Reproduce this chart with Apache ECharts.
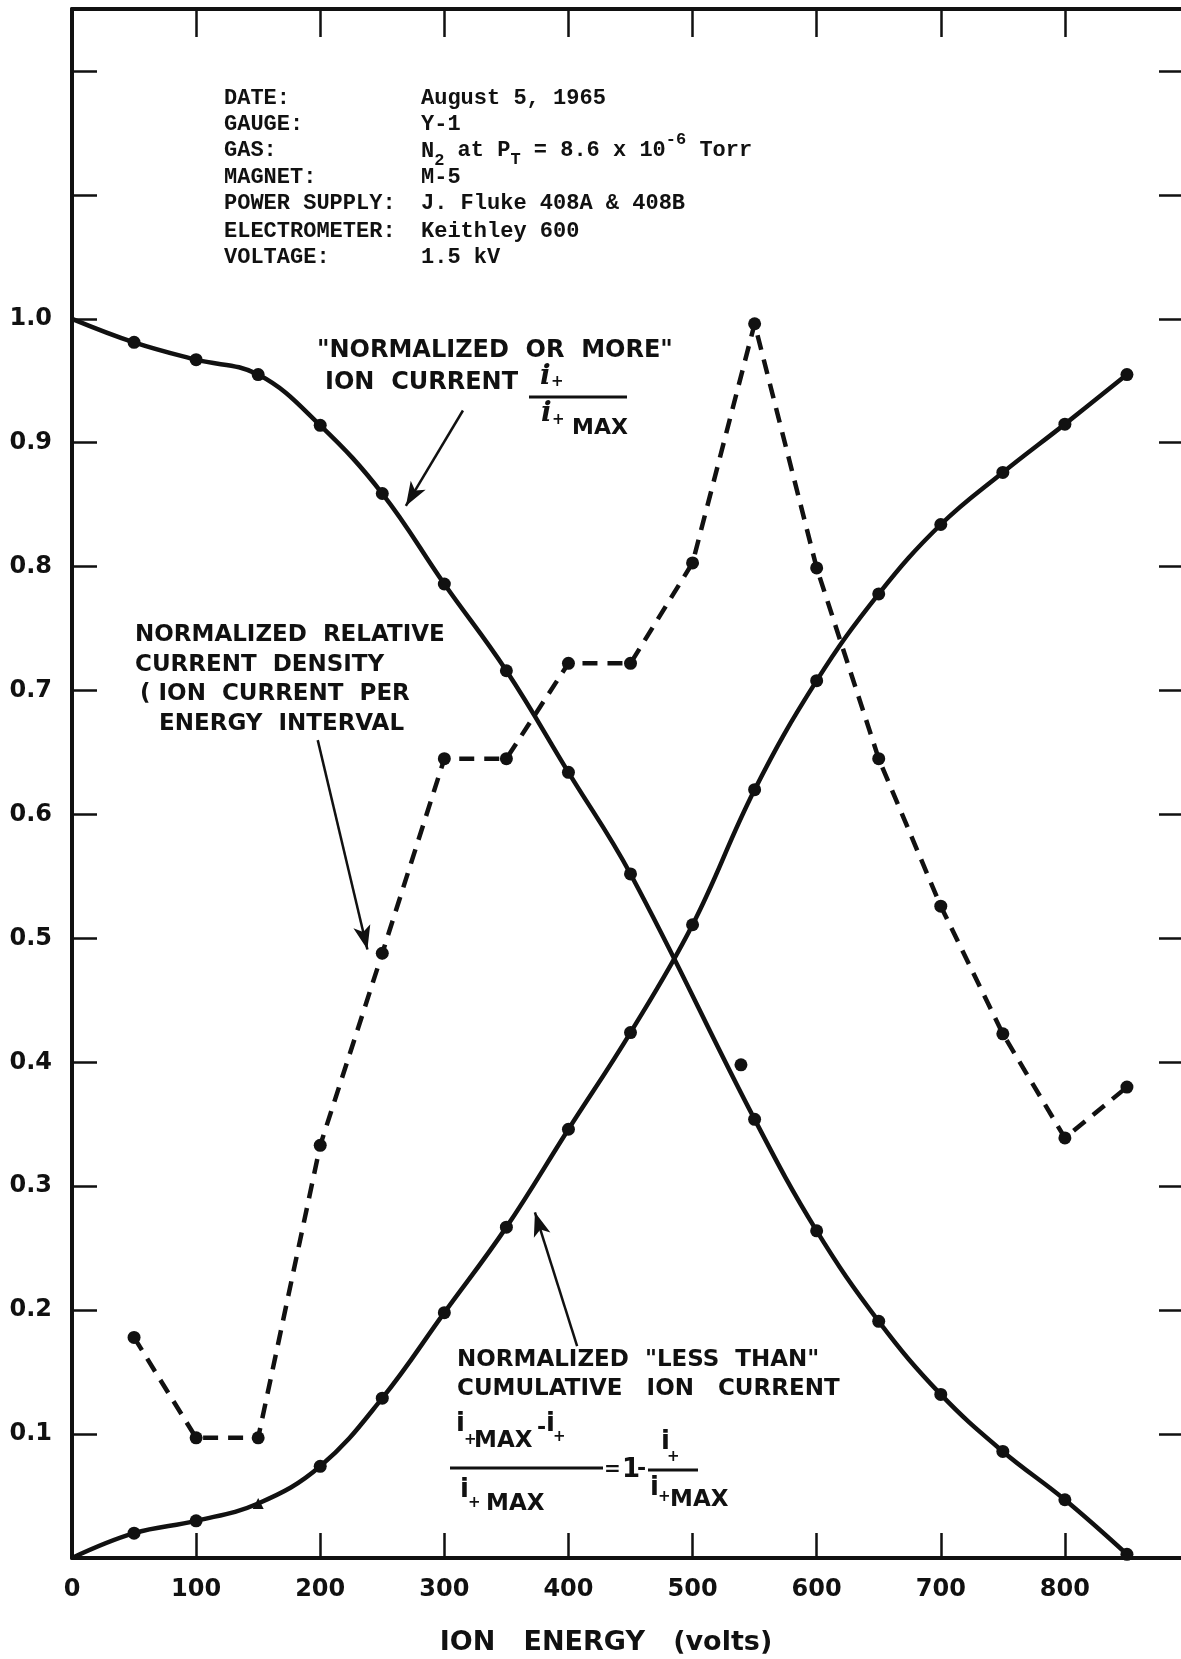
<!DOCTYPE html>
<html><head><meta charset="utf-8">
<script src="https://cdn.jsdelivr.net/npm/echarts@6/dist/echarts.min.js"></script>
<style>html,body{margin:0;padding:0;background:#fff}#c{width:1181px;height:1659px}</style>
</head><body><div id="c"></div>
<script>
// ---- data ----
const energyOrMore   = [0,50,100,150,200,250,300,350,400,450,550,600,650,700,750,800,850];
const currentOrMore  = [1.0,0.981,0.967,0.955,0.914,0.859,0.786,0.716,0.634,0.552,0.354,0.264,0.191,0.132,0.086,0.047,0.003];
const energyLessThan = [0,50,100,150,200,250,300,350,400,450,500,550,600,650,700,750,800,850];
const currentLessThan= [0.0,0.020,0.030,0.044,0.074,0.129,0.198,0.267,0.346,0.424,0.511,0.620,0.708,0.778,0.834,0.876,0.915,0.955];
const energyDensity  = [50,100,150,200,250,300,350,400,450,500,550,600,650,700,750,800,850];
const currentDensity = [0.178,0.097,0.097,0.333,0.488,0.645,0.645,0.722,0.722,0.803,0.996,0.799,0.645,0.526,0.423,0.339,0.380];
const strayEnergy    = [539];
const strayCurrent   = [0.398];
const xTickLabels = ['0','100','200','300','400','500','600','700','800'];
const yTickLabels = ['0.1','0.2','0.3','0.4','0.5','0.6','0.7','0.8','0.9','1.0'];
// annotation arrows (data coordinates): [from, to]
const arrowFrom = [[315,0.926],[198,0.660],[407,0.171]];
const arrowTo   = [[269,0.849],[238,0.491],[373,0.279]];

const chart = echarts.init(document.getElementById('c'), null, {renderer:'canvas'});
const BLACK = '#111';
const zip = (xs, ys) => xs.map((x,i)=>[x, ys[i]]);

const infoLabels = ['DATE:','GAUGE:','GAS:','MAGNET:','POWER SUPPLY:','ELECTROMETER:','VOLTAGE:'];
const infoValues = ['August 5, 1965','Y-1',null,'M-5','J. Fluke 408A & 408B','Keithley 600','1.5 kV'];
const rowY = [98,124,150,177,203,231,257];
const mono = 'bold 22px "Liberation Mono", "DejaVu Sans Mono", monospace';
const sans = (s) => 'bold ' + s + 'px "DejaVu Sans", "Liberation Sans", sans-serif';

const graphic = [];
infoLabels.forEach((t,i)=>graphic.push({type:'text', x:224, y:rowY[i], style:{text:t, font:mono, fill:BLACK, textVerticalAlign:'middle'}}));
infoValues.forEach((t,i)=>{ if(t) graphic.push({type:'text', x:421, y:rowY[i], style:{text:t, font:mono, fill:BLACK, textVerticalAlign:'middle'}}); });
// GAS line with sub/superscripts
const gasParts = [
  ['N',0,22],['2',10,17],[' at P',-1,22],['T',9,17],[' = 8.6 x 10',-1,22],['-6',-11,17],[' Torr',-1,22]
];
(function(){
  let x = 421;
  gasParts.forEach(p=>{
    graphic.push({type:'text', x:x, y:rowY[2]+p[1]+1, style:{text:p[0], font:'bold '+p[2]+'px "Liberation Mono", monospace', fill:BLACK, textVerticalAlign:'middle'}});
    x += p[0].length * p[2]*0.6;
  });
})();

function T(text, x, y, size, extra){
  return Object.assign({type:'text', x:x, y:y, style:Object.assign({text:text, font:sans(size), fill:BLACK, textVerticalAlign:'middle'}, extra||{})});
}
function L(x1,y1,x2,y2,w){ return {type:'line', shape:{x1:x1,y1:y1,x2:x2,y2:y2}, style:{stroke:BLACK, lineWidth:w||3}}; }

// "NORMALIZED OR MORE" label
graphic.push(T('"NORMALIZED  OR  MORE"', 317, 351, 24));
graphic.push(T('ION  CURRENT', 325, 383, 24));
graphic.push(L(529,397,627,397,3));
graphic.push({type:'text', x:540, y:377, style:{text:'i', font:'italic bold 28px "DejaVu Serif", serif', fill:BLACK, textVerticalAlign:'middle'}});
graphic.push(T('+', 551, 382, 15));
graphic.push({type:'text', x:541, y:414, style:{text:'i', font:'italic bold 28px "DejaVu Serif", serif', fill:BLACK, textVerticalAlign:'middle'}});
graphic.push(T('+', 552, 420, 15));
graphic.push(T('MAX', 572, 428, 22));

// relative current density label
graphic.push(T('NORMALIZED  RELATIVE', 135, 635, 23));
graphic.push(T('CURRENT  DENSITY', 135, 665, 23));
graphic.push(T('( ION  CURRENT  PER', 140, 694, 23));
graphic.push(T('ENERGY  INTERVAL', 159, 724, 23));

// "less than" label and formula
graphic.push(T('NORMALIZED  "LESS  THAN"', 457, 1360, 23));
graphic.push(T('CUMULATIVE   ION   CURRENT', 457, 1389, 23));
graphic.push(T('i', 456, 1424, 26));
graphic.push(T('+', 464, 1440, 15));
graphic.push(T('MAX', 474, 1441, 23));
graphic.push(T('-', 537, 1428, 22));
graphic.push(T('i', 546, 1424, 26));
graphic.push(T('+', 553, 1437, 15));
graphic.push(L(450,1468,603,1468,3));
graphic.push(T('i', 460, 1490, 26));
graphic.push(T('+', 468, 1503, 15));
graphic.push(T('MAX', 486, 1504, 23));
graphic.push(T('=', 604, 1470, 20));
graphic.push(T('1', 622, 1470, 26));
graphic.push(T('-', 637, 1469, 22));
graphic.push(L(648,1470,698,1470,3));
graphic.push(T('i', 661, 1442, 26));
graphic.push(T('+', 667, 1457, 15));
graphic.push(T('i', 650, 1488, 26));
graphic.push(T('+', 658, 1497, 15));
graphic.push(T('MAX', 670, 1500, 23));

// axis title
graphic.push(T('ION   ENERGY   (volts)', 606, 1643, 27, {textAlign:'center'}));

const axisLineStyle = {show:true, onZero:false, lineStyle:{color:BLACK, width:4}};
const tickStyle = (len)=>({show:true, inside:true, length:len, lineStyle:{color:BLACK, width:2.5}});

const option = {
  animation:false,
  backgroundColor:'#fff',
  grid:{left:72, right:-8, top:9, bottom:101, containLabel:false, outerBoundsMode:'none'},
  xAxis:[
    {type:'value', min:0, max:900, interval:100, position:'bottom',
     axisLine:axisLineStyle, axisTick:tickStyle(25), splitLine:{show:false},
     axisLabel:{show:true, margin:20, color:BLACK, fontSize:24, fontWeight:'bold', fontFamily:'"DejaVu Sans", sans-serif',
       formatter:(v)=> xTickLabels.indexOf(String(v))>=0 ? String(v) : ''}},
    {type:'value', min:0, max:900, interval:100, position:'top',
     axisLine:axisLineStyle, axisTick:tickStyle(28), splitLine:{show:false}, axisLabel:{show:false}}
  ],
  yAxis:[
    {type:'value', min:0, max:1.25, interval:0.1, position:'left',
     axisLine:axisLineStyle, axisTick:tickStyle(25), splitLine:{show:false},
     axisLabel:{show:true, margin:20, color:BLACK, fontSize:24, fontWeight:'bold', fontFamily:'"DejaVu Sans", sans-serif',
       formatter:(v)=>{ const s=v.toFixed(1); return yTickLabels.indexOf(s)>=0 ? s : ''; }}},
    {type:'value', min:0, max:1.25, interval:0.1, position:'right',
     axisLine:axisLineStyle, axisTick:tickStyle(30), splitLine:{show:false}, axisLabel:{show:false}}
  ],
  series:[
    {name:'or more', type:'line', smooth:0.4,
     data: zip(energyOrMore, currentOrMore).map((p,i)=> i===0 ? {value:p, symbol:'none'} : p),
     symbol:'circle', symbolSize:13, lineStyle:{color:BLACK, width:4.5}, itemStyle:{color:BLACK}, z:3},
    {name:'less than', type:'line', smooth:0.4,
     data: zip(energyLessThan, currentLessThan).map((p,i)=> i===0 ? {value:p, symbol:'none'} : (i===3 ? {value:p, symbol:'triangle', symbolSize:11} : p)),
     symbol:'circle', symbolSize:13, lineStyle:{color:BLACK, width:4.5}, itemStyle:{color:BLACK}, z:3},
    {name:'density', type:'line', smooth:false,
     data: zip(energyDensity, currentDensity),
     symbol:'circle', symbolSize:13, lineStyle:{color:BLACK, width:4.5, type:[15,10]}, itemStyle:{color:BLACK}, z:3},
    {name:'stray', type:'scatter', data: zip(strayEnergy, strayCurrent), symbol:'circle', symbolSize:13, itemStyle:{color:BLACK, opacity:1},
     markLine:{silent:true, symbol:['none','arrow'], symbolSize:[13,24], label:{show:false},
       lineStyle:{color:BLACK, width:2.5, type:'solid'},
       data: arrowFrom.map((f,i)=>[{coord:f},{coord:arrowTo[i]}])}}
  ],
  graphic: graphic
};
chart.setOption(option);
</script></body></html>
